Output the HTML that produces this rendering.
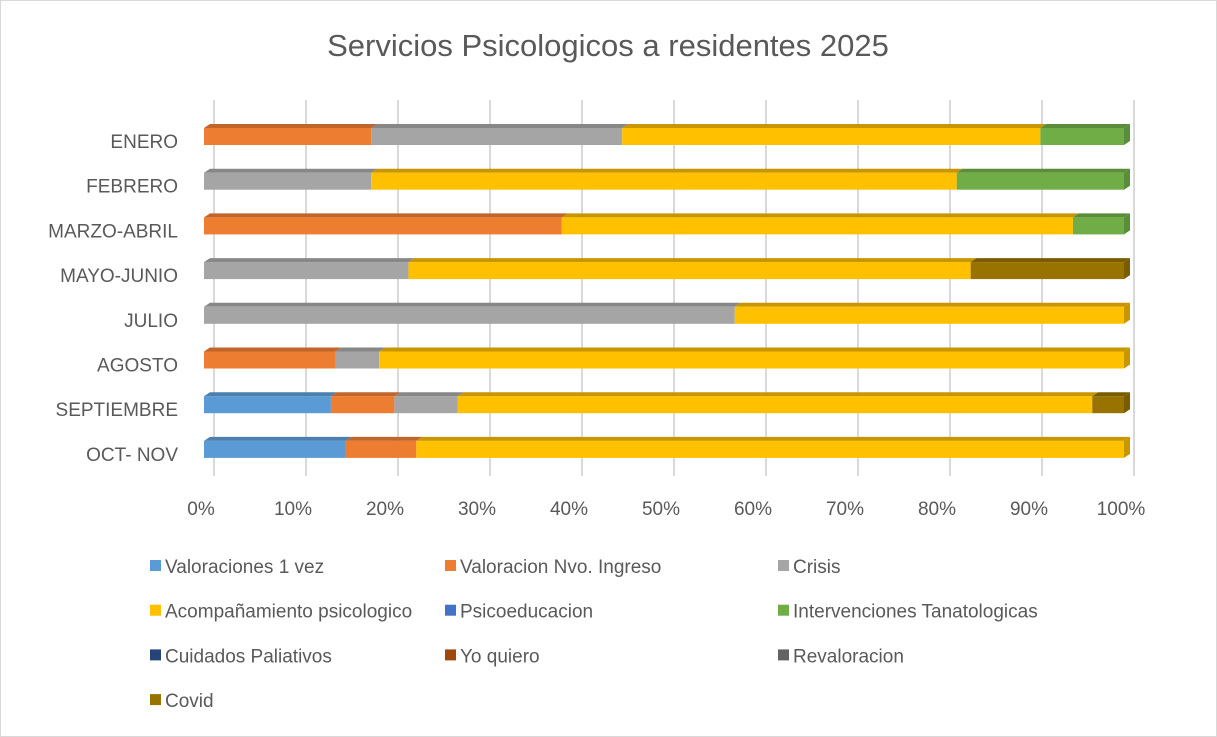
<!DOCTYPE html>
<html><head><meta charset="utf-8"><style>
body{margin:0;background:#fff;}
svg{display:block;font-family:"Liberation Sans",sans-serif;}
</style></head><body>
<svg id="chart" width="1217" height="737">
<rect x="0.5" y="0.5" width="1216" height="736" fill="#fff" stroke="#d9d9d9"/>
<text x="608" y="56" font-size="31" fill="#595959" text-anchor="middle">Servicios Psicologicos a residentes 2025</text>
<g id="grid"></g><g id="bars"></g><g id="axes"></g><g id="legend"></g>
</svg>
<script>
const categories=["ENERO","FEBRERO","MARZO-ABRIL","MAYO-JUNIO","JULIO","AGOSTO","SEPTIEMBRE","OCT- NOV"];
const seriesNames=["Valoraciones 1 vez","Valoracion Nvo. Ingreso","Crisis","Acompañamiento psicologico","Psicoeducacion","Intervenciones Tanatologicas","Cuidados Paliativos","Yo quiero","Revaloracion","Covid"];
const valoraciones=[0,0,0,0,0,0,4,2];
const nvoIngreso=[2,0,7,0,0,3,2,1];
const crisis=[3,2,0,4,15,1,2,0];
const acompanamiento=[5,7,10,11,11,17,20,10];
const psicoeducacion=[0,0,0,0,0,0,0,0];
const tanatologicas=[1,2,1,0,0,0,0,0];
const paliativos=[0,0,0,0,0,0,0,0];
const yoQuiero=[0,0,0,0,0,0,0,0];
const revaloracion=[0,0,0,0,0,0,0,0];
const covid=[0,0,0,3,0,0,1,0];
const tickLabels=["0%","10%","20%","30%","40%","50%","60%","70%","80%","90%","100%"];
const series=[valoraciones,nvoIngreso,crisis,acompanamiento,psicoeducacion,tanatologicas,paliativos,yoQuiero,revaloracion,covid];
const colors=["#5B9BD5","#ED7D31","#A5A5A5","#FFC000","#4472C4","#70AD47","#264478","#9E480E","#636363","#997300"];
const tops=["#4a7fae","#c1652a","#878787","#c79600","#3a5fa3","#5a8d3a","#1d3560","#7f3a0b","#4f4f4f","#7a5c00"];
const NS="http://www.w3.org/2000/svg";
const X0=204,W=920,DX=6,DY=4;
function xScale(p){return X0+p*W;}
function yRow(i){return 128+i*44.7;}
const BH=17;
function mk(t,a,p){const e=document.createElementNS(NS,t);for(const k in a)e.setAttribute(k,a[k]);p.appendChild(e);return e;}
const grid=document.getElementById('grid'),bars=document.getElementById('bars'),axes=document.getElementById('axes'),legend=document.getElementById('legend');
tickLabels.forEach((t,i)=>{
 const x=xScale(i/10);
 const g=mk('line',{x1:x+10,x2:x+10,y1:100,y2:476,stroke:'#d9d9d9','stroke-width':2},grid);
 
 
 const tx=mk('text',{x:x-3,y:515,'font-size':19,fill:'#595959','text-anchor':'middle'},axes);
 tx.textContent=t;
 
 
});
categories.forEach((c,i)=>{
 const y=yRow(i);
 const lb=mk('text',{x:178,y:y+20,'font-size':19,fill:'#595959','text-anchor':'end'},axes);
 lb.textContent=c;
 
 
 let tot=0;series.forEach(s=>tot+=s[i]);
 let acc=0;let last=-1;
 series.forEach((s,k)=>{
  if(!s[i])return;
  const xa=xScale(acc/tot),xb=xScale((acc+s[i])/tot);acc+=s[i];last=k;
  const top=mk('polygon',{points:`${xa},${y} ${xa+DX},${y-DY} ${xb+DX},${y-DY} ${xb},${y}`,fill:tops[k]},bars);
  
  
  const r=mk('rect',{x:xa,y:y,width:xb-xa,height:BH,fill:colors[k]},bars);
  
  
 });
 if(last>=0){const xe=xScale(1);
  const side=mk('polygon',{points:`${xe},${y} ${xe+DX},${y-DY} ${xe+DX},${y+BH-DY} ${xe},${y+BH}`,fill:tops[last]},bars);
  
  }
});
const lx=[150,445,778];
seriesNames.forEach((n,k)=>{
 const col=k%3,row=Math.floor(k/3);
 const y=566+row*44.7;
 const g=mk('g',{},legend);
 
 
 mk('rect',{x:lx[col],y:y-6,width:11,height:11,fill:colors[k]},g);
 const t=mk('text',{x:lx[col]+15,y:y+7,'font-size':19,fill:'#595959'},g);
 t.textContent=n;
});
</script>
</body></html>
